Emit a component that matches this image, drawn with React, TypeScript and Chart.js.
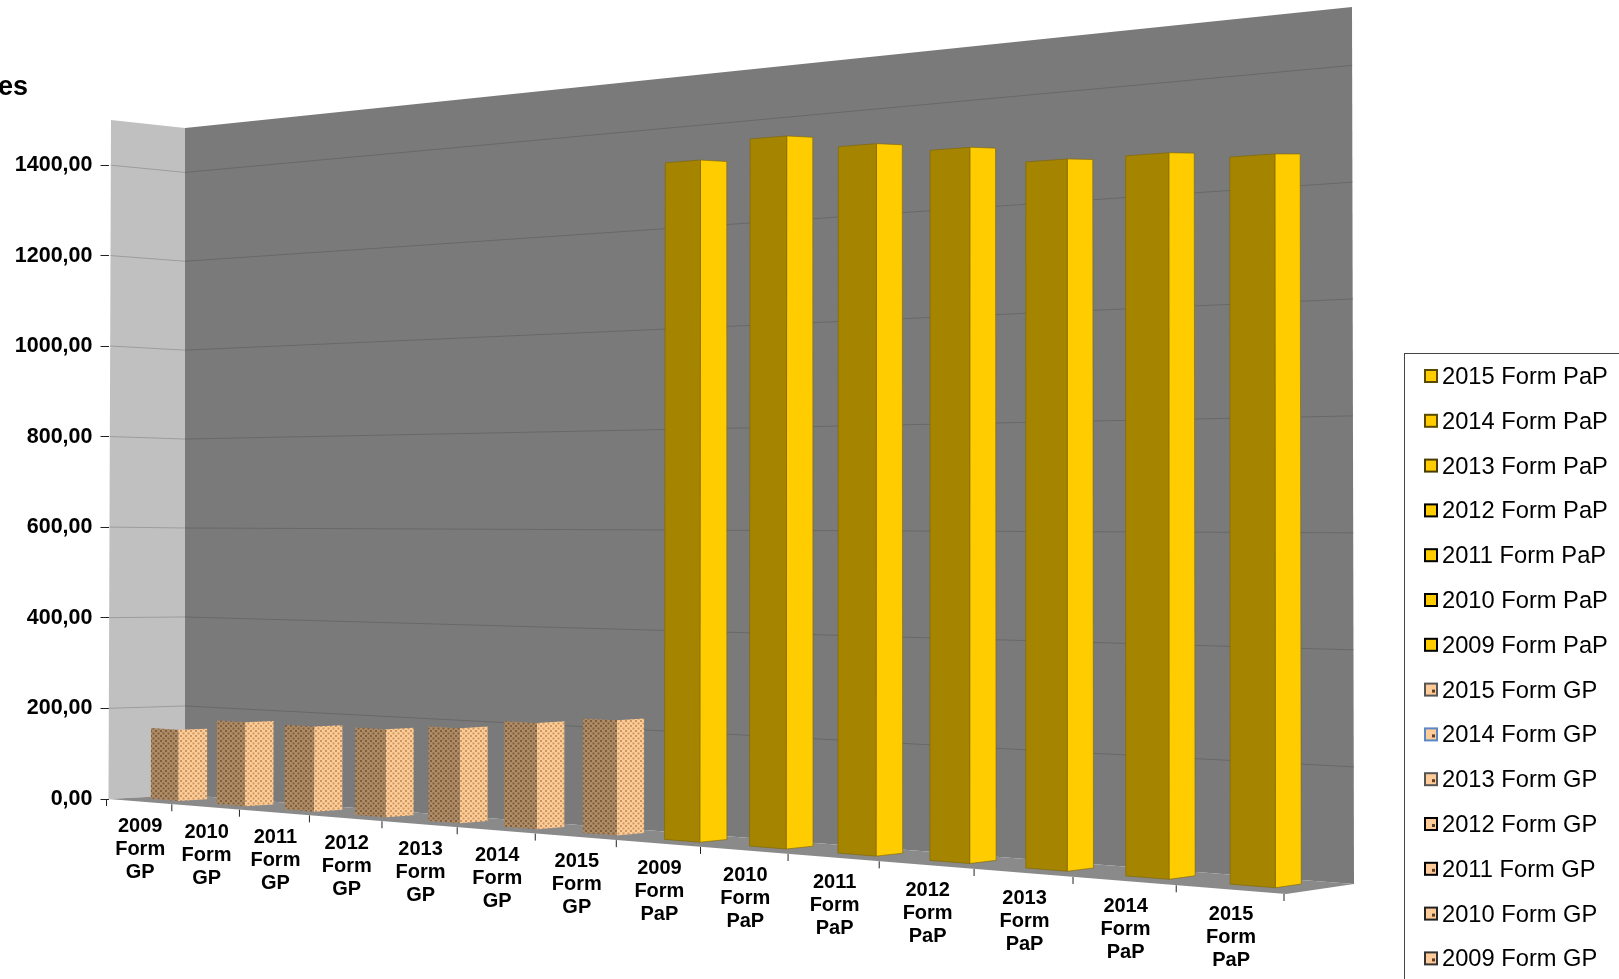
import React, { useEffect, useRef } from "react";
import { Chart, registerables } from "chart.js";
Chart.register(...registerables);

const categories = [
  "2009 Form GP","2010 Form GP","2011 Form GP","2012 Form GP","2013 Form GP","2014 Form GP","2015 Form GP",
  "2009 Form PaP","2010 Form PaP","2011 Form PaP","2012 Form PaP","2013 Form PaP","2014 Form PaP","2015 Form PaP",
];
const values = [157, 182, 181, 184, 195, 214, 228, 1318, 1351, 1323, 1303, 1269, 1267, 1252];
const legendBorders = ["#333","#222","#000","#000","#555","#5b87c5","#555","#000","#000","#000","#000","#4a3c00","#5a4a00","#5a4a00"];
const titleFragment = "es";
const FONT = '"Liberation Sans", Arial, sans-serif';

type P = [number, number];
const FL0: P = [108.5, 799], FL1: P = [111, 120], FR0: P = [1286, 894], FR1: P = [1286, 5];
const BL0: P = [185, 795], BL1: P = [185, 128], BR0: P = [1354, 884], BR1: P = [1352, 7];
const W_FRONT = 0.31, W_BACK = 0.69;

function homography(p0: P, p1: P, p2: P, p3: P) {
  const dx1 = p1[0] - p2[0], dx2 = p3[0] - p2[0], sx = p0[0] - p1[0] + p2[0] - p3[0];
  const dy1 = p1[1] - p2[1], dy2 = p3[1] - p2[1], sy = p0[1] - p1[1] + p2[1] - p3[1];
  const den = dx1 * dy2 - dx2 * dy1;
  const g = (sx * dy2 - dx2 * sy) / den, h = (dx1 * sy - sx * dy1) / den;
  const a = p1[0] - p0[0] + g * p1[0], b = p3[0] - p0[0] + h * p3[0], c = p0[0];
  const d = p1[1] - p0[1] + g * p1[1], e = p3[1] - p0[1] + h * p3[1], f = p0[1];
  return (u: number, v: number): P => {
    const q = g * u + h * v + 1;
    return [(a * u + b * v + c) / q, (d * u + e * v + f) / q];
  };
}
const front = homography(FL0, FR0, FR1, FL1);
const back = homography(BL0, BR0, BR1, BL1);
const project = (u: number, v: number, w: number): P => {
  const f = front(u, v), b = back(u, v);
  return [f[0] + (b[0] - f[0]) * w, f[1] + (b[1] - f[1]) * w];
};

function poly(ctx: CanvasRenderingContext2D, pts: P[], fill: any, stroke?: string, lw = 1) {
  ctx.beginPath();
  pts.forEach((p, i) => (i ? ctx.lineTo(p[0], p[1]) : ctx.moveTo(p[0], p[1])));
  ctx.closePath();
  ctx.fillStyle = fill;
  ctx.fill();
  if (stroke) { ctx.strokeStyle = stroke; ctx.lineWidth = lw; ctx.stroke(); }
}
function line(ctx: CanvasRenderingContext2D, a: P, b: P, color: string, lw = 1) {
  ctx.beginPath(); ctx.moveTo(a[0], a[1]); ctx.lineTo(b[0], b[1]);
  ctx.strokeStyle = color; ctx.lineWidth = lw; ctx.stroke();
}
function dots(ctx: CanvasRenderingContext2D, base: string, dot: string) {
  const c = document.createElement("canvas");
  c.width = 5; c.height = 5;
  const x = c.getContext("2d")!;
  x.fillStyle = base; x.fillRect(0, 0, 5, 5);
  x.fillStyle = dot; x.fillRect(0, 0, 2, 2); x.fillRect(2.5, 2.5, 2, 2);
  return ctx.createPattern(c, "repeat")!;
}

const scene3d = {
  id: "scene3d",
  beforeDatasetsDraw(chart: any) {
    const { ctx, chartArea: ca, scales } = chart;
    const U = (px: number) => (px - ca.left) / (ca.right - ca.left);
    const V = (py: number) => (ca.bottom - py) / (ca.bottom - ca.top);
    const ys = scales.y, xs = scales.x;
    ctx.save();
    // walls and floor
    poly(ctx, [project(0,0,1), project(1,0,1), project(1,1,1), project(0,1,1)], "#7a7a7a");
    poly(ctx, [project(0,0,0), project(0,0,1), project(0,1,1), project(0,1,0)], "#c0c0c0");
    poly(ctx, [project(0,0,0), project(1,0,0), project(1,0,1), project(0,0,1)], "#8a8a8a");
    // gridlines from the value scale
    ys.ticks.forEach((t: any) => {
      if (t.value === 0) return;
      const v = V(ys.getPixelForValue(t.value));
      line(ctx, project(0,v,0), project(0,v,1), "#939393", 0.8);
      line(ctx, project(0,v,1), project(1,v,1), "#636363", 0.8);
    });
    // bars
    const meta = chart.getDatasetMeta(0);
    const gpFront = dots(ctx, "#b08c66", "#7d5f40");
    const gpSide = dots(ctx, "#ffcc99", "#c8975f");
    meta.data.forEach((el: any, i: number) => {
      const uL = U(el.x - el.width / 2), uR = U(el.x + el.width / 2), v = V(el.y), v0 = V(el.base);
      const gp = categories[i].endsWith("GP");
      const edge = gp ? undefined : "#7d6500";
      poly(ctx, [project(uR,v0,W_FRONT), project(uR,v0,W_BACK), project(uR,v,W_BACK), project(uR,v,W_FRONT)], gp ? gpSide : "#ffcc00", edge, 0.6);
      poly(ctx, [project(uL,v0,W_FRONT), project(uR,v0,W_FRONT), project(uR,v,W_FRONT), project(uL,v,W_FRONT)], gp ? gpFront : "#a58400", edge, 0.6);
    });
    // category ticks and labels on the slanted front edge
    const tickUs = categories.map((_, i) => U(xs.getPixelForValue(i)) - 0.5 / categories.length);
    tickUs.push(1);
    tickUs.forEach((u) => {
      const p = project(u, 0, 0);
      line(ctx, [p[0] - 2, p[1]], [p[0] - 2, p[1] + 7], "#222222");
    });
    ctx.fillStyle = "#000";
    ctx.font = `bold 20px ${FONT}`;
    ctx.textAlign = "center";
    ctx.textBaseline = "middle";
    categories.forEach((c, i) => {
      const a = project(tickUs[i], 0, 0), b = project(tickUs[i + 1], 0, 0);
      const cx = (a[0] + b[0]) / 2 - 1, cy = (a[1] + b[1]) / 2 + 25;
      c.split(" ").forEach((s, k) => ctx.fillText(s, cx, cy + k * 23));
    });
    ctx.restore();
    return false;
  },
  afterDraw(chart: any) {
    const { ctx } = chart;
    ctx.save();
    ctx.fillStyle = "#000";
    ctx.font = `bold 27px ${FONT}`;
    ctx.textAlign = "left";
    ctx.textBaseline = "middle";
    ctx.fillText(titleFragment, -2, 88);
    // legend box
    ctx.fillStyle = "#fff";
    ctx.strokeStyle = "#444";
    ctx.lineWidth = 1;
    ctx.fillRect(1404.5, 353.5, 230, 640);
    ctx.strokeRect(1404.5, 353.5, 230, 640);
    ctx.font = `23.7px ${FONT}`;
    const n = categories.length;
    for (let k = 0; k < n; k++) {
      const i = n - 1 - k;
      const y = 376 + k * 44.8;
      const gp = categories[i].endsWith("GP");
      ctx.fillStyle = gp ? "#ffcc99" : "#ffcc00";
      ctx.fillRect(1425, y - 6, 12, 12);
      if (gp) { ctx.fillStyle = "#5a4028"; ctx.fillRect(1432, y, 3, 3); }
      ctx.strokeStyle = legendBorders[i];
      ctx.lineWidth = 2;
      ctx.strokeRect(1425, y - 6, 12, 12);
      ctx.fillStyle = "#000";
      ctx.fillText(categories[i], 1442, y + 1.5);
    }
    ctx.restore();
  },
};

export default function App() {
  const ref = useRef<HTMLCanvasElement>(null);
  useEffect(() => {
    const chart = new Chart(ref.current!, {
      type: "bar",
      data: {
        labels: categories,
        datasets: [{
          label: "Form",
          data: values,
          backgroundColor: categories.map((c) => (c.endsWith("GP") ? "#ffcc99" : "#ffcc00")),
          barPercentage: 0.42,
          categoryPercentage: 1,
        }],
      },
      options: {
        animation: false,
        responsive: false,
        devicePixelRatio: 1,
        layout: { padding: { top: 120, right: 1619 - 1286, left: 0, bottom: 0 } },
        plugins: { legend: { display: false }, title: { display: false }, tooltip: { enabled: false } },
        scales: {
          x: {
            afterFit: (s: any) => { s.height = 979 - 799; },
            grid: { display: false },
            border: { display: false },
            ticks: { display: false },
          },
          y: {
            min: 0,
            max: 1500,
            afterFit: (s: any) => { s.width = 108.5; },
            border: { display: false },
            grid: { drawOnChartArea: false, drawTicks: true, tickLength: 8, color: "#222222" },
            ticks: {
              stepSize: 200,
              includeBounds: false,
              padding: 8,
              color: "#000",
              font: { family: "Liberation Sans", size: 21.5, weight: "bold" },
              callback: (v: any) => Number(v).toFixed(2).replace(".", ","),
            },
          },
        },
      } as any,
      plugins: [scene3d as any],
    });
    return () => chart.destroy();
  }, []);
  return <canvas ref={ref} width={1619} height={979} style={{ position: "fixed", left: 0, top: 0, display: "block" }} />;
}
